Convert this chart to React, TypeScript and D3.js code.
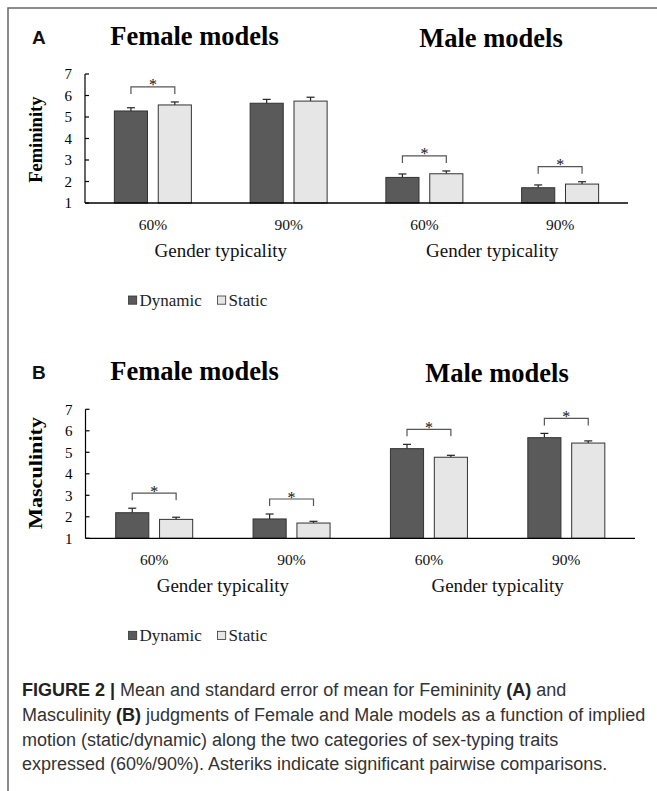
import React from "react";
import * as d3 from "d3";

// ---- data ----
const groups = ["Female models", "Male models"];
const categories = ["60%", "90%", "60%", "90%"];
const series = ["Dynamic", "Static"];
const yTicks = [1, 2, 3, 4, 5, 6, 7];

const femininityDynamic = [5.28, 5.64, 2.19, 1.71];
const femininityDynamicSE = [0.15, 0.18, 0.16, 0.13];
const femininityStatic = [5.56, 5.74, 2.36, 1.88];
const femininityStaticSE = [0.14, 0.18, 0.13, 0.11];
const femininitySig = [true, false, true, true];

const masculinityDynamic = [2.19, 1.9, 5.17, 5.68];
const masculinityDynamicSE = [0.21, 0.23, 0.2, 0.2];
const masculinityStatic = [1.88, 1.71, 4.77, 5.43];
const masculinityStaticSE = [0.1, 0.08, 0.09, 0.1];
const masculinitySig = [true, true, true, true];

const colors = ["#5a5a5a", "#e6e6e6"];

const serif = "'Liberation Serif', 'Times New Roman', serif";
const sans = "'Liberation Sans', Arial, sans-serif";

type PanelProps = {
  letter: string;
  yLabel: string;
  yLabelLength?: number;
  dyn: number[];
  dynSE: number[];
  stat: number[];
  statSE: number[];
  sig: boolean[];
  yTop: number;
  yBase: number;
  xRange: [number, number];
  titleY: [number, number];
  titleX: [number, number];
  yLabelY: number;
};

function Panel(p: PanelProps) {
  const y = d3.scaleLinear().domain([1, 7]).range([p.yBase, p.yTop]);
  const x = d3
    .scaleBand<number>()
    .domain(categories.map((_, i) => i))
    .range(p.xRange)
    .padding(0);
  const sub = d3.scaleBand<number>().domain([0, 1]).range([-38.5, 38.5]).paddingInner(0.245);
  const bw = sub.bandwidth();
  const vals = [p.dyn, p.stat];
  const ses = [p.dynSE, p.statSE];
  const axisX = p.xRange[0];
  const mid = (a: number, b: number) => (a + b) / 2;
  const halfCenter = [
    mid(x(0)! + x.bandwidth() / 2, x(1)! + x.bandwidth() / 2),
    mid(x(2)! + x.bandwidth() / 2, x(3)! + x.bandwidth() / 2),
  ];
  return (
    <g>
      <text x={32} y={p.titleY[0] - 1} fontFamily={sans} fontWeight="bold" fontSize={19} fill="#111">
        {p.letter}
      </text>
      {groups.map((g, i) => (
        <text
          key={g}
          x={p.titleX[i]}
          y={p.titleY[i]}
          textAnchor="middle"
          fontFamily={serif}
          fontWeight="bold"
          fontSize={26.5}
          fill="#000"
        >
          {g}
        </text>
      ))}
      {/* y axis */}
      <line x1={axisX} x2={axisX} y1={y(7)} y2={y(1)} stroke="#000" strokeWidth={1.2} />
      {yTicks.map((t) => (
        <g key={t}>
          <line x1={axisX} x2={axisX + 4} y1={y(t)} y2={y(t)} stroke="#000" strokeWidth={1.2} />
          <text
            x={axisX - 13}
            y={y(t)}
            dy="0.35em"
            textAnchor="end"
            fontFamily={serif}
            fontSize={15}
            fill="#000"
          >
            {t}
          </text>
        </g>
      ))}
      <text
        transform={`translate(42,${p.yLabelY}) rotate(-90)`}
        textAnchor="middle"
        fontFamily={serif}
        fontWeight="bold"
        fontSize={18.5}
        fill="#000"
        textLength={p.yLabelLength}
        lengthAdjust={p.yLabelLength ? "spacingAndGlyphs" : undefined}
      >
        {p.yLabel}
      </text>
      {/* bars */}
      {categories.map((c, i) => {
        const cx = x(i)! + x.bandwidth() / 2;
        const tops: number[] = [];
        return (
          <g key={i}>
            {series.map((s, k) => {
              const v = vals[k][i];
              const e = v + ses[k][i];
              const bx = cx + sub(k)!;
              const bcx = bx + bw / 2;
              tops.push(y(e));
              return (
                <g key={s}>
                  <line x1={bcx} x2={bcx} y1={y(v)} y2={y(e)} stroke="#222" strokeWidth={1.2} />
                  <line x1={bcx - 4} x2={bcx + 4} y1={y(e)} y2={y(e)} stroke="#222" strokeWidth={1.2} />
                  <rect
                    x={bx}
                    y={y(v)}
                    width={bw}
                    height={y(1) - y(v)}
                    fill={colors[k]}
                    stroke="#333"
                    strokeWidth={1}
                  />
                </g>
              );
            })}
            {p.sig[i] &&
              (() => {
                const x1 = cx + sub(0)! + bw / 2;
                const x2 = cx + sub(1)! + bw / 2;
                const legB = Math.min(...tops) - 8;
                const top = legB - 7;
                return (
                  <g>
                    <path
                      d={`M${x1},${legB}V${top}H${x2}V${legB}`}
                      fill="none"
                      stroke="#555"
                      strokeWidth={1.2}
                    />
                    <text
                      x={(x1 + x2) / 2}
                      y={top + 3.5}
                      textAnchor="middle"
                      fontFamily={serif}
                      fontSize={16}
                      fill="#111"
                    >
                      *
                    </text>
                  </g>
                );
              })()}
            <text
              x={cx}
              y={p.yBase + 26.5}
              textAnchor="middle"
              fontFamily={serif}
              fontSize={15.5}
              fill="#111"
            >
              {c}
            </text>
          </g>
        );
      })}
      {/* baseline */}
      <line x1={axisX} x2={p.xRange[1]} y1={y(1)} y2={y(1)} stroke="#000" strokeWidth={1.3} />
      {halfCenter.map((hc, i) => (
        <text
          key={i}
          x={hc}
          y={p.yBase + 54}
          textAnchor="middle"
          fontFamily={serif}
          fontSize={19}
          fill="#111"
        >
          Gender typicality
        </text>
      ))}
      {/* legend */}
      {series.map((s, k) => {
        const lx = [128.5, 217.5][k];
        return (
          <g key={s}>
            <rect
              x={lx}
              y={p.yBase + 93}
              width={8.2}
              height={8.2}
              fill={colors[k]}
              stroke="#333"
              strokeWidth={0.8}
            />
            <text x={lx + 11} y={p.yBase + 102.5} fontFamily={serif} fontSize={17} fill="#222">
              {s}
            </text>
          </g>
        );
      })}
    </g>
  );
}

export default function App() {
  return (
    <svg
      width={657}
      height={791}
      style={{ position: "absolute", left: 0, top: 0, background: "#fff" }}
    >
      <rect x={0} y={0} width={657} height={791} fill="#fff" />
      <path d="M8,791V8H657" fill="none" stroke="#666" strokeWidth={1.5} />
      <Panel
        letter="A"
        yLabel="Femininity"
        dyn={femininityDynamic}
        dynSE={femininityDynamicSE}
        stat={femininityStatic}
        statSE={femininityStaticSE}
        sig={femininitySig}
        yTop={74}
        yBase={203}
        xRange={[85, 628]}
        titleY={[45, 46.5]}
        titleX={[194.5, 491]}
        yLabelY={139.7}
      />
      <Panel
        letter="B"
        yLabel="Masculinity"
        yLabelLength={112}
        dyn={masculinityDynamic}
        dynSE={masculinityDynamicSE}
        stat={masculinityStatic}
        statSE={masculinityStaticSE}
        sig={masculinitySig}
        yTop={409.3}
        yBase={538.3}
        xRange={[85.5, 635]}
        titleY={[380, 382]}
        titleX={[194.5, 497]}
        yLabelY={473}
      />
      <g fontFamily={sans} fontSize={18} fill="#333">
        <text x={22} y={696}>
          <tspan fontWeight="bold" fill="#222">FIGURE 2 |</tspan>
          <tspan> Mean and standard error of mean for Femininity </tspan>
          <tspan fontWeight="bold" fill="#222">(A)</tspan>
          <tspan> and</tspan>
        </text>
        <text x={22} y={721}>
          <tspan>Masculinity </tspan>
          <tspan fontWeight="bold" fill="#222">(B)</tspan>
          <tspan> judgments of Female and Male models as a function of implied</tspan>
        </text>
        <text x={22} y={746}>
          motion (static/dynamic) along the two categories of sex-typing traits
        </text>
        <text x={22} y={770}>
          expressed (60%/90%). Asteriks indicate significant pairwise comparisons.
        </text>
      </g>
    </svg>
  );
}
